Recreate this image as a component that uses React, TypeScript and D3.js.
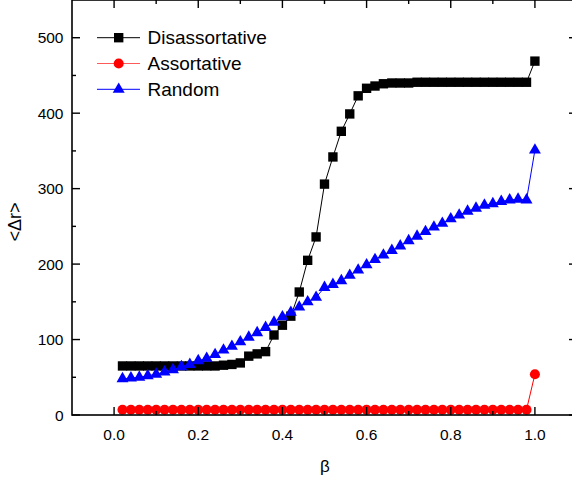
import React from "react";
import * as d3 from "d3";

const betas: number[] = [
  0.02, 0.04, 0.06, 0.08, 0.1, 0.12, 0.14, 0.16, 0.18, 0.2,
  0.22, 0.24, 0.26, 0.28, 0.3, 0.32, 0.34, 0.36, 0.38, 0.4,
  0.42, 0.44, 0.46, 0.48, 0.5, 0.52, 0.54, 0.56, 0.58, 0.6,
  0.62, 0.64, 0.66, 0.68, 0.7, 0.72, 0.74, 0.76, 0.78, 0.8,
  0.82, 0.84, 0.86, 0.88, 0.9, 0.92, 0.94, 0.96, 0.98, 1.0,
];

const disassortative: number[] = [
  65, 65, 65, 65, 65, 65, 65, 65, 65, 65,
  65, 65, 66, 67, 69, 78, 81, 84, 106, 119,
  131, 163, 205, 236, 306, 342, 376, 399, 423, 433,
  436, 439, 440, 440, 440, 441, 441, 441, 441, 441,
  441, 441, 441, 441, 441, 441, 441, 441, 441, 469,
];

const assortative: number[] = [
  7, 7, 7, 7, 7, 7, 7, 7, 7, 7,
  7, 7, 7, 7, 7, 7, 7, 7, 7, 7,
  7, 7, 7, 7, 7, 7, 7, 7, 7, 7,
  7, 7, 7, 7, 7, 7, 7, 7, 7, 7,
  7, 7, 7, 7, 7, 7, 7, 7, 7, 54,
];

const random: number[] = [
  48, 49, 50, 52, 54, 57, 60, 64, 67, 72,
  75, 80, 86, 91, 97, 103, 109, 116, 123, 130,
  136, 143, 150, 156, 169, 173, 178, 185, 192, 199,
  206, 212, 218, 224, 231, 237, 243, 249, 254, 260,
  265, 270, 274, 278, 280, 283, 285, 286, 285, 351,
];

const xMajor: number[] = [0, 0.2, 0.4, 0.6, 0.8, 1.0];
const xMinor: number[] = [0.1, 0.3, 0.5, 0.7, 0.9];
const yMajor: number[] = [0, 100, 200, 300, 400, 500];
const yMinor: number[] = [50, 150, 250, 350, 450];

const seriesNames: string[] = ["Disassortative", "Assortative", "Random"];
const seriesColors: string[] = ["#000000", "#ff0000", "#0000ff"];
const legendLineColors: string[] = ["#000000", "#ff5a5a", "#0000ff"];

const FONT = "'Liberation Sans', Arial, Helvetica, sans-serif";

export default function App() {
  const W = 572;
  const H = 482;
  const left = 72;
  const right = 577;
  const top = 0;
  const bottom = 415;

  const x = d3.scaleLinear().domain([-0.1, 1.1]).range([left, right]);
  const y = d3.scaleLinear().domain([0, 550]).range([bottom, top]);

  const series = [disassortative, assortative, random];
  const symbols = [d3.symbolSquare, d3.symbolCircle, d3.symbolTriangle];
  const sizes = [88, 80, 62];

  const line = d3
    .line<number>()
    .x((_, i) => x(betas[i]))
    .y((d) => y(d));

  const markerPath = (k: number) => d3.symbol().type(symbols[k]).size(sizes[k])() as string;

  return (
    <svg
      width={W}
      height={H}
      style={{ position: "fixed", left: 0, top: 0, background: "#fff" }}
      fontFamily={FONT}
    >
      <rect x={0} y={0} width={W} height={H} fill="#fff" />

      {series.map((vals, k) => (
        <g key={seriesNames[k]}>
          <path d={line(vals) as string} fill="none" stroke={seriesColors[k]} strokeWidth={1} />
          {vals.map((v, i) => (
            <path
              key={i}
              d={markerPath(k)}
              transform={`translate(${x(betas[i])},${y(v)})`}
              fill={seriesColors[k]}
            />
          ))}
        </g>
      ))}

      <rect
        x={left}
        y={top}
        width={right - left}
        height={bottom - top}
        fill="none"
        stroke="#000"
        strokeWidth={1.6}
      />

      {xMajor.map((t) => (
        <g key={"xm" + t}>
          <line x1={x(t)} x2={x(t)} y1={bottom} y2={bottom - 8} stroke="#000" strokeWidth={1.4} />
          <line x1={x(t)} x2={x(t)} y1={top} y2={top + 8} stroke="#000" strokeWidth={1.4} />
          <text x={x(t)} y={439.5} textAnchor="middle" fontSize={15.5} fill="#000">
            {d3.format(".1f")(t)}
          </text>
        </g>
      ))}
      {xMinor.map((t) => (
        <g key={"xn" + t}>
          <line x1={x(t)} x2={x(t)} y1={bottom} y2={bottom - 4} stroke="#000" strokeWidth={1.4} />
          <line x1={x(t)} x2={x(t)} y1={top} y2={top + 4} stroke="#000" strokeWidth={1.4} />
        </g>
      ))}

      {yMajor.map((t) => (
        <g key={"ym" + t}>
          <line x1={left} x2={left + 8} y1={y(t)} y2={y(t)} stroke="#000" strokeWidth={1.4} />
          <line x1={right} x2={right - 8} y1={y(t)} y2={y(t)} stroke="#000" strokeWidth={1.4} />
          <text x={63.5} y={y(t) + 5.6} textAnchor="end" fontSize={15.5} fill="#000">
            {t}
          </text>
        </g>
      ))}
      {yMinor.map((t) => (
        <g key={"yn" + t}>
          <line x1={left} x2={left + 4} y1={y(t)} y2={y(t)} stroke="#000" strokeWidth={1.4} />
          <line x1={right} x2={right - 4} y1={y(t)} y2={y(t)} stroke="#000" strokeWidth={1.4} />
        </g>
      ))}

      <text x={325} y={472} textAnchor="middle" fontSize={17} fill="#000">
        β
      </text>
      <text
        transform="translate(21,222) rotate(-90)"
        textAnchor="middle"
        fontSize={18}
        fill="#000"
      >
        {"<Δr>"}
      </text>

      {seriesNames.map((name, k) => {
        const ly = 37.7 + k * 25.8;
        return (
          <g key={"lg" + name}>
            <line x1={97} x2={140} y1={ly} y2={ly} stroke={legendLineColors[k]} strokeWidth={1} />
            <path d={markerPath(k)} transform={`translate(118.7,${ly})`} fill={seriesColors[k]} />
            <text x={147.5} y={ly + 6.6} fontSize={19} fill="#000">
              {name}
            </text>
          </g>
        );
      })}
    </svg>
  );
}
